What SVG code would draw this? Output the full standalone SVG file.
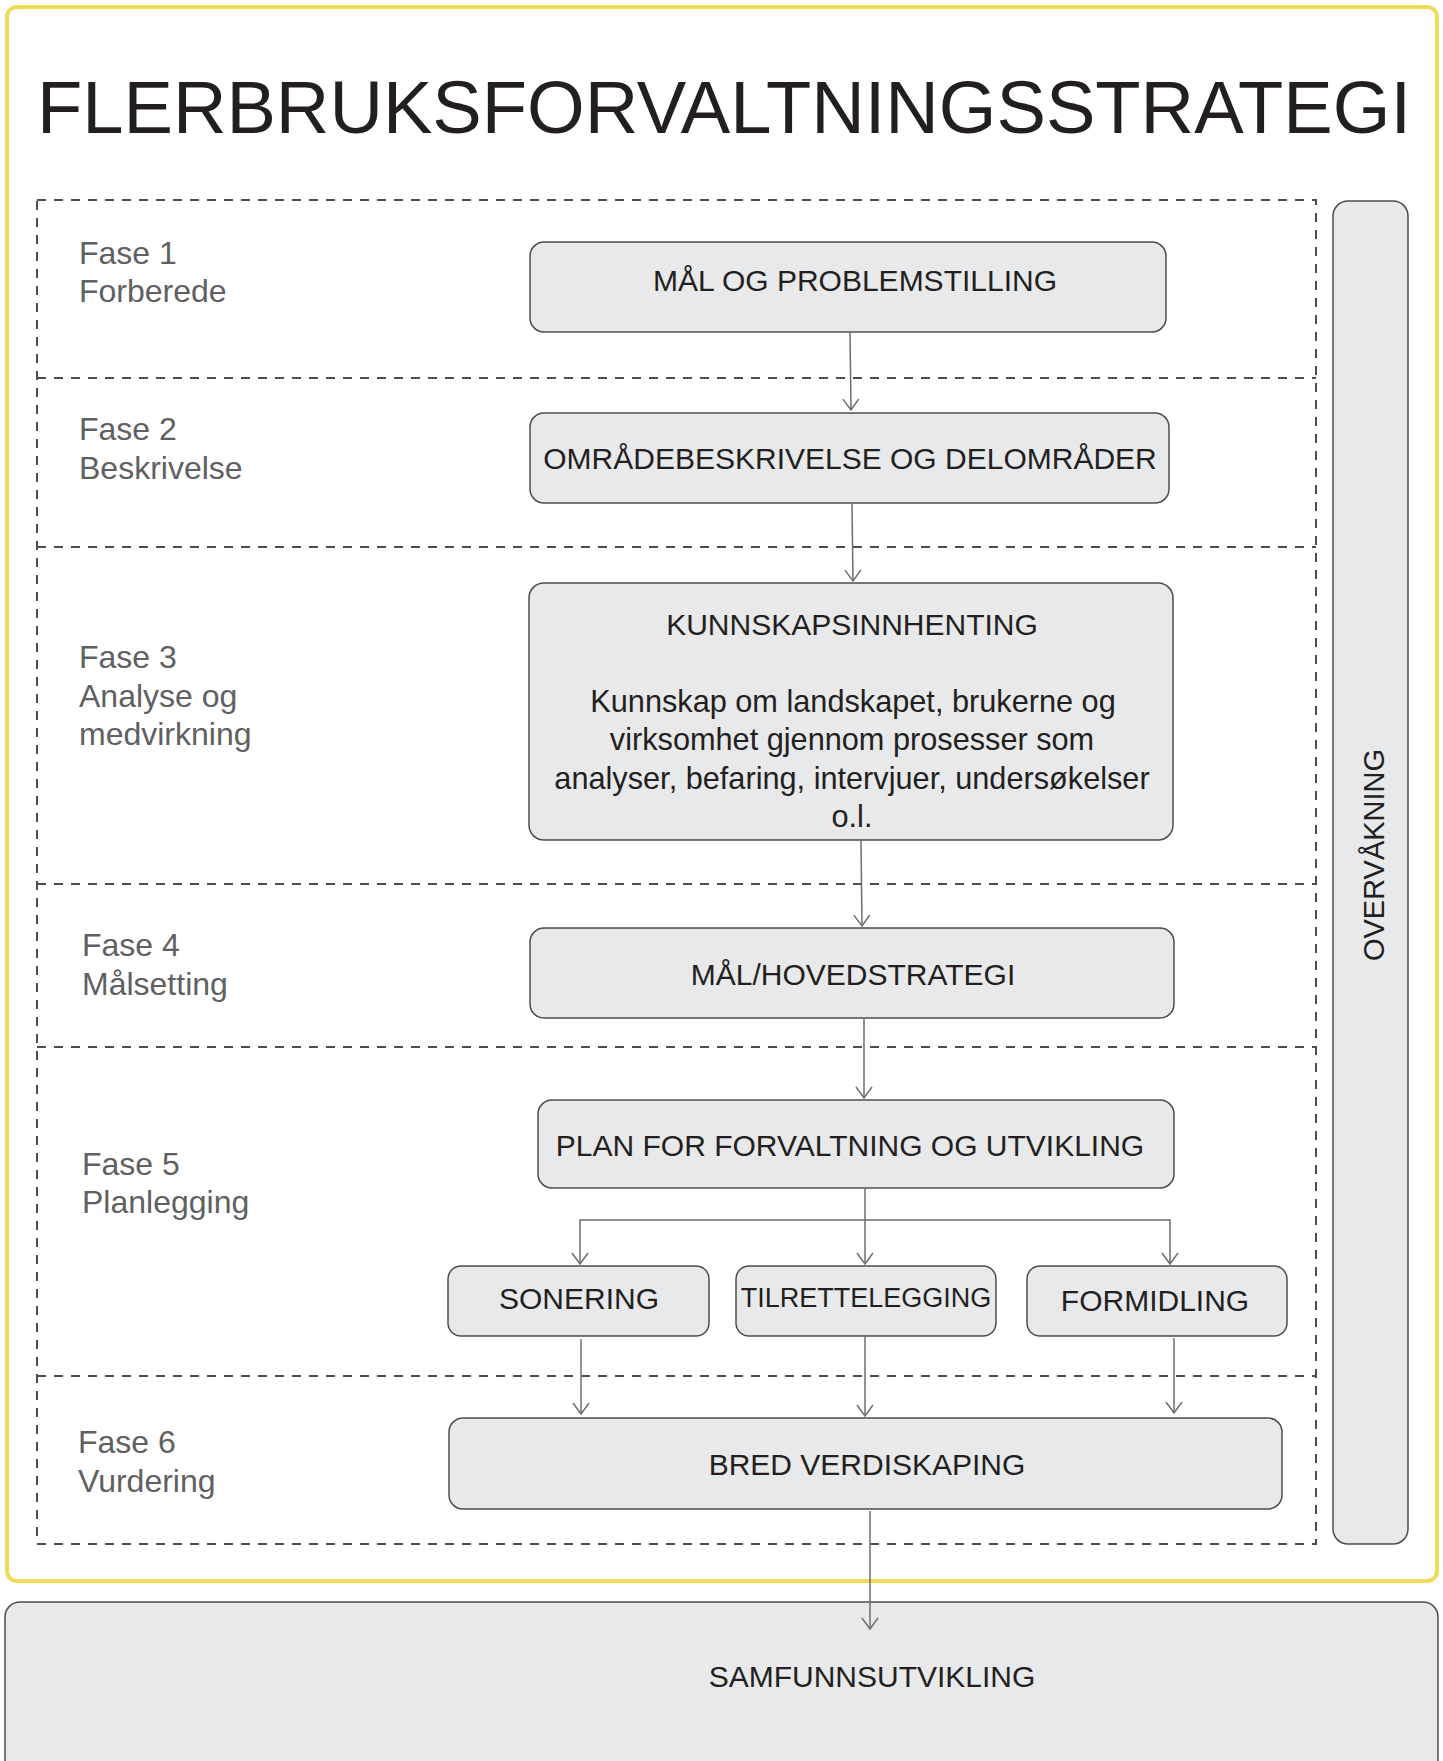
<svg xmlns="http://www.w3.org/2000/svg" width="1443" height="1761" viewBox="0 0 1443 1761">
<defs>
<style>
.box{fill:#e8e9eb;stroke:#4d4d4f;stroke-width:1.5}
.lbl{font-family:"Liberation Sans",Arial,Helvetica,sans-serif;fill:#231f20;text-anchor:middle}
.fase{font-family:"Liberation Sans",Arial,Helvetica,sans-serif;fill:#5f6062;font-size:32px}
.dash{fill:none;stroke:#4d4d4f;stroke-width:2;stroke-dasharray:9 8}
.con{fill:none;stroke:#6d6e71;stroke-width:1.5}
</style>
<marker id="arr" viewBox="-12 -10 14 20" markerWidth="14" markerHeight="20" refX="0" refY="0" orient="auto" markerUnits="userSpaceOnUse">
<path d="M-11,-8 L0,0 L-11,8" fill="none" stroke="#6d6e71" stroke-width="1.5"/>
</marker>
</defs>
<rect width="1443" height="1761" fill="#ffffff"/>

<g id="samfunnsutvikling">
<rect class="box" x="5" y="1602" width="1433" height="220" rx="15"/>
<text class="lbl" x="872" y="1687" font-size="30">SAMFUNNSUTVIKLING</text>
</g>

<g id="frame">
<rect x="7" y="7" width="1430" height="1574" rx="10" fill="none" stroke="#eedb5a" stroke-width="4"/>
<text x="37" y="133" font-family="'Liberation Sans',Arial,Helvetica,sans-serif" font-size="74" fill="#231f20" textLength="1374" lengthAdjust="spacingAndGlyphs">FLERBRUKSFORVALTNINGSSTRATEGI</text>
</g>

<g id="phases">
<rect class="dash" x="37" y="200" width="1279" height="1344"/>
<line class="dash" x1="37" y1="378" x2="1316" y2="378"/>
<line class="dash" x1="37" y1="547" x2="1316" y2="547"/>
<line class="dash" x1="37" y1="884" x2="1316" y2="884"/>
<line class="dash" x1="37" y1="1047" x2="1316" y2="1047"/>
<line class="dash" x1="37" y1="1376" x2="1316" y2="1376"/>
</g>

<g id="fase1"><text class="fase" x="79" y="264">Fase 1</text><text class="fase" x="79" y="302">Forberede</text></g>
<g id="fase2"><text class="fase" x="79" y="440">Fase 2</text><text class="fase" x="79" y="479">Beskrivelse</text></g>
<g id="fase3"><text class="fase" x="79" y="668">Fase 3</text><text class="fase" x="79" y="707">Analyse og</text><text class="fase" x="79" y="745">medvirkning</text></g>
<g id="fase4"><text class="fase" x="82" y="956">Fase 4</text><text class="fase" x="82" y="995">Målsetting</text></g>
<g id="fase5"><text class="fase" x="82" y="1175">Fase 5</text><text class="fase" x="82" y="1213">Planlegging</text></g>
<g id="fase6"><text class="fase" x="78" y="1453">Fase 6</text><text class="fase" x="78" y="1492">Vurdering</text></g>

<g id="overvakning">
<rect class="box" x="1333" y="201" width="75" height="1343" rx="15"/>
<text class="lbl" font-size="29" transform="translate(1384,855) rotate(-90)">OVERVÅKNING</text>
</g>

<g id="mal-og-problemstilling">
<rect class="box" x="530" y="242" width="636" height="90" rx="14"/>
<text class="lbl" x="855" y="291" font-size="30">MÅL OG PROBLEMSTILLING</text>
</g>

<g id="omradebeskrivelse">
<rect class="box" x="530" y="413" width="639" height="90" rx="14"/>
<text class="lbl" x="850" y="469" font-size="30">OMRÅDEBESKRIVELSE OG DELOMRÅDER</text>
</g>

<g id="kunnskapsinnhenting">
<rect class="box" x="529" y="583" width="644" height="257" rx="15"/>
<text class="lbl" x="852" y="635" font-size="30">KUNNSKAPSINNHENTING</text>
<text class="lbl" x="853" y="712" font-size="30.7">Kunnskap om landskapet, brukerne og</text>
<text class="lbl" x="852" y="750" font-size="30.7">virksomhet gjennom prosesser som</text>
<text class="lbl" x="852" y="789" font-size="30.7">analyser, befaring, intervjuer, undersøkelser</text>
<text class="lbl" x="852" y="827" font-size="30.7">o.l.</text>
</g>

<g id="hovedstrategi">
<rect class="box" x="530" y="928" width="644" height="90" rx="14"/>
<text class="lbl" x="853" y="985" font-size="30">MÅL/HOVEDSTRATEGI</text>
</g>

<g id="plan">
<rect class="box" x="538" y="1100" width="636" height="88" rx="14"/>
<text class="lbl" x="850" y="1156" font-size="30">PLAN FOR FORVALTNING OG UTVIKLING</text>
</g>

<g id="sonering">
<rect class="box" x="448" y="1266" width="261" height="70" rx="13"/>
<text class="lbl" x="579" y="1309" font-size="30">SONERING</text>
</g>

<g id="tilrettelegging">
<rect class="box" x="736" y="1266" width="260" height="70" rx="13"/>
<text class="lbl" x="866" y="1307" font-size="27">TILRETTELEGGING</text>
</g>

<g id="formidling">
<rect class="box" x="1027" y="1266" width="260" height="70" rx="13"/>
<text class="lbl" x="1155" y="1311" font-size="30">FORMIDLING</text>
</g>

<g id="bred-verdiskaping">
<rect class="box" x="449" y="1418" width="833" height="91" rx="14"/>
<text class="lbl" x="867" y="1475" font-size="30">BRED VERDISKAPING</text>
</g>

<g id="connectors">
<line class="con" x1="850" y1="333" x2="851" y2="410" marker-end="url(#arr)"/>
<line class="con" x1="852" y1="504" x2="853" y2="581" marker-end="url(#arr)"/>
<line class="con" x1="861" y1="841" x2="862" y2="926" marker-end="url(#arr)"/>
<line class="con" x1="864" y1="1019" x2="864" y2="1098" marker-end="url(#arr)"/>
<line class="con" x1="865" y1="1188" x2="865" y2="1264" marker-end="url(#arr)"/>
<polyline class="con" points="580,1264 580,1220 1170,1220 1170,1264"/>
<line class="con" x1="580" y1="1262" x2="580" y2="1264" marker-end="url(#arr)"/>
<line class="con" x1="1170" y1="1262" x2="1170" y2="1264" marker-end="url(#arr)"/>
<line class="con" x1="581" y1="1339" x2="581" y2="1414" marker-end="url(#arr)"/>
<line class="con" x1="865" y1="1337" x2="865" y2="1416" marker-end="url(#arr)"/>
<line class="con" x1="1174" y1="1338" x2="1174" y2="1413" marker-end="url(#arr)"/>
<line class="con" x1="870" y1="1511" x2="870" y2="1629" marker-end="url(#arr)"/>
</g>
</svg>
